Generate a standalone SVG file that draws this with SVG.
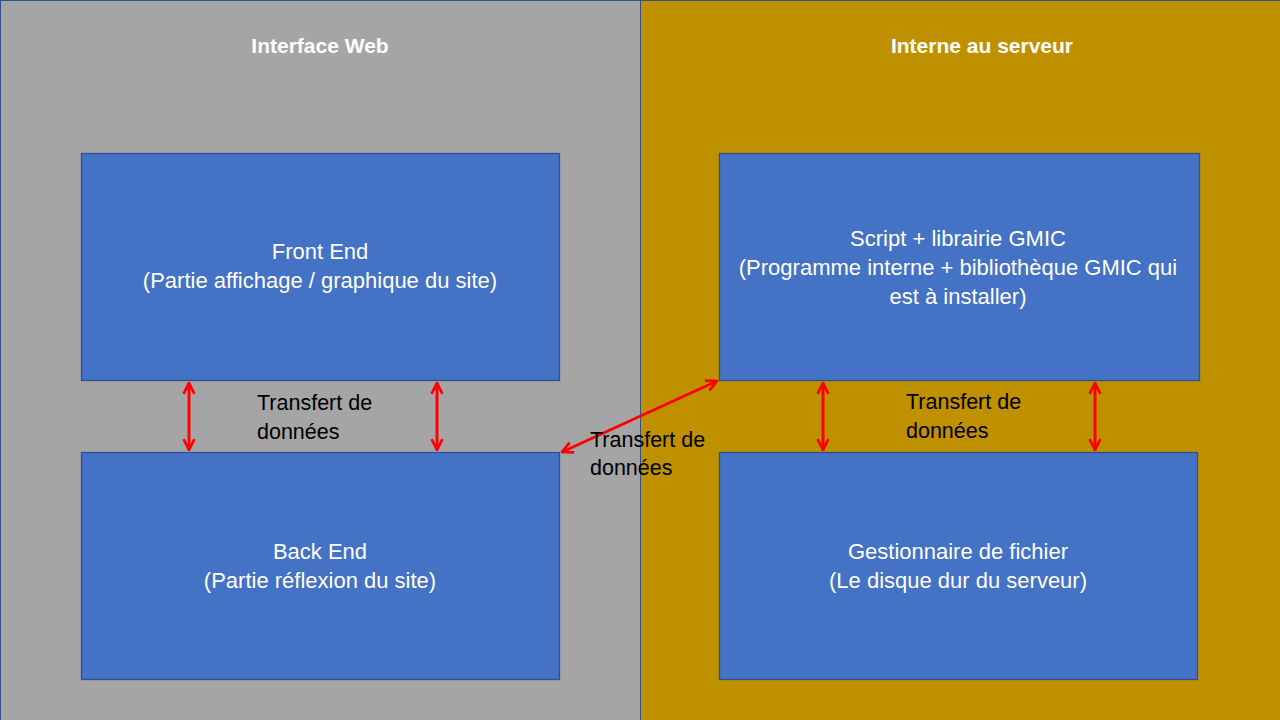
<svg xmlns="http://www.w3.org/2000/svg" width="1280" height="720" viewBox="0 0 1280 720">
<style>
.box{fill:#4472C4;stroke:#2F528F;stroke-width:1.3}
.t{font-family:"Liberation Sans",Arial,sans-serif;font-size:22px;fill:#ffffff;text-anchor:middle}
.h{font-family:"Liberation Sans",Arial,sans-serif;font-size:21px;font-weight:bold;fill:#ffffff;text-anchor:middle}
.l{font-family:"Liberation Sans",Arial,sans-serif;font-size:21.5px;fill:#000000}
.c{stroke:#FF0000;stroke-width:3;fill:none;marker-start:url(#a);marker-end:url(#a)}
</style>
<defs>
<marker id="a" viewBox="0 0 10 10" refX="9" refY="5" markerWidth="4.5" markerHeight="4.5" orient="auto-start-reverse" markerUnits="strokeWidth">
<path d="M1,1 L9,5 L1,9" fill="none" stroke="#FF0000" stroke-width="2"/>
</marker>
</defs>
<g id="panels">
<rect x="0.5" y="0.5" width="640" height="720" fill="#A5A5A5" stroke="#2F528F" stroke-width="1"/>
<rect x="640.5" y="0.5" width="640" height="720" fill="#BF9000" stroke="#2F528F" stroke-width="1"/>
<text class="h" x="320" y="53">Interface Web</text>
<text class="h" x="982" y="53">Interne au serveur</text>
</g>
<g id="front-end">
<rect class="box" x="81.5" y="153.5" width="478" height="227"/>
<text class="t" x="320" y="259">Front End</text>
<text class="t" x="320" y="288">(Partie affichage / graphique du site)</text>
</g>
<g id="back-end">
<rect class="box" x="81.5" y="452.5" width="478" height="227"/>
<text class="t" x="320" y="559">Back End</text>
<text class="t" x="320" y="588">(Partie réflexion du site)</text>
</g>
<g id="script">
<rect class="box" x="719.5" y="153.5" width="480" height="227"/>
<text class="t" x="958" y="246">Script + librairie GMIC</text>
<text class="t" x="958" y="275">(Programme interne + bibliothèque GMIC qui</text>
<text class="t" x="958" y="304">est à installer)</text>
</g>
<g id="gestionnaire">
<rect class="box" x="719.5" y="452.5" width="478" height="227"/>
<text class="t" x="958" y="559">Gestionnaire de fichier</text>
<text class="t" x="958" y="588">(Le disque dur du serveur)</text>
</g>
<g id="connectors">
<line class="c" x1="189" y1="383" x2="189" y2="450"/>
<line class="c" x1="437" y1="383" x2="437" y2="450"/>
<line class="c" x1="823" y1="383" x2="823" y2="450"/>
<line class="c" x1="1095" y1="383" x2="1095" y2="450"/>
<line class="c" x1="562" y1="452" x2="717" y2="381"/>
</g>
<g id="labels">
<text class="l" x="257" y="410">Transfert de</text>
<text class="l" x="257" y="439">données</text>
<text class="l" x="590" y="447">Transfert de</text>
<text class="l" x="590" y="475">données</text>
<text class="l" x="906" y="409">Transfert de</text>
<text class="l" x="906" y="438">données</text>
</g>
</svg>
